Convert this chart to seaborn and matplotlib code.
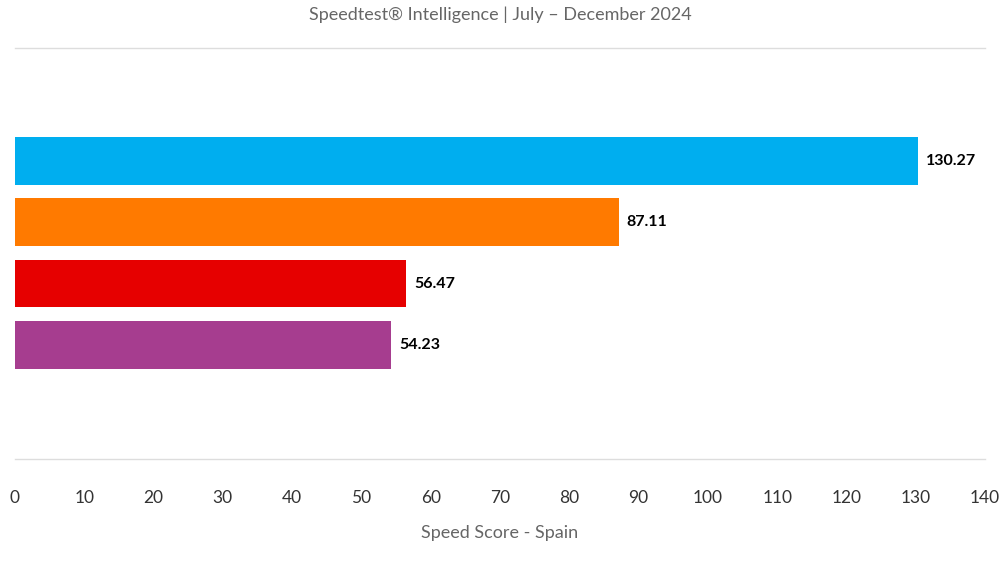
import matplotlib
matplotlib.use("Agg")
import matplotlib.pyplot as plt
import seaborn as sns
import pandas as pd

operators = ["A", "B", "C", "D"]
scores = [130.27, 87.11, 56.47, 54.23]
colors = ["#00aeef", "#ff7a00", "#e60000", "#a63d8f"]
ticks = list(range(0, 150, 10))

plt.rcParams["font.family"] = "Lato"
df = pd.DataFrame({"op": operators, "score": scores})
fig = plt.figure(figsize=(10, 5.67), dpi=100)
ax = fig.add_axes([0.015, 1 - 459 / 567, 0.97, 411 / 567])
sns.barplot(data=df, x="score", y="op", hue="op", palette=colors, orient="h",
            width=0.78, legend=False, ax=ax, saturation=1)
ax.set_xlim(0, 140)
ax.set_ylim(4.86, -1.84)
ax.set_yticks([])
ax.set_ylabel("")
ax.set_xticks(ticks)
ax.set_xticklabels([str(t) for t in ticks], fontsize=12.5, color="#333333")
ax.tick_params(axis="x", length=0, pad=22)
for s in ["left", "right"]:
    ax.spines[s].set_visible(False)
for s in ["top", "bottom"]:
    ax.spines[s].set_color("#dddddd")
    ax.spines[s].set_linewidth(1)
for i, v in enumerate(scores):
    ax.text(v + 1.2, i, f"{v:.2f}", va="center", ha="left", fontsize=11.5,
            fontweight="bold", color="black")
ax.set_xlabel("Speed Score - Spain", fontsize=13, color="#666666", labelpad=14)
fig.text(0.5, 1 - 15 / 567, "Speedtest® Intelligence | July – December 2024",
         ha="center", va="center", fontsize=13, color="#666666")
fig.savefig("out.png", dpi=100)
